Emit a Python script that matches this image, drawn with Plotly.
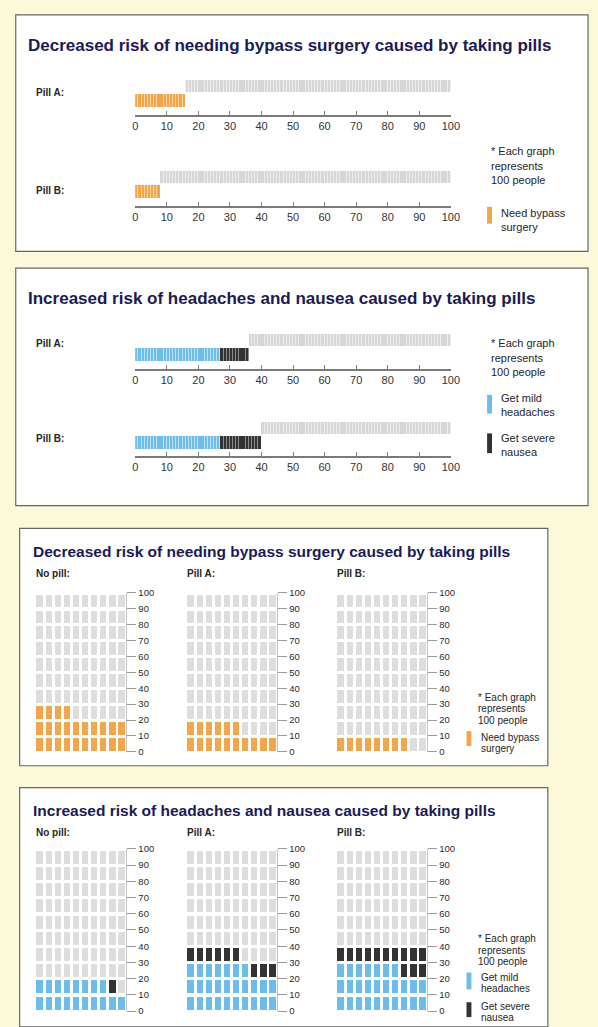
import numpy as np
import plotly.graph_objects as go

W, H = 598, 1027

# ---------------- data ----------------
groups = ["No pill", "Pill A", "Pill B"]
need_bypass = [24, 16, 8]          # people out of 100 needing bypass surgery
mild_headaches = [18, 27, 27]      # people out of 100 getting mild headaches
severe_nausea = [1, 9, 13]         # people out of 100 getting severe nausea
people_per_graph = 100
tick_values = [0, 10, 20, 30, 40, 50, 60, 70, 80, 90, 100]

title_bypass = "Decreased risk of needing bypass surgery caused by taking pills"
title_headache = "Increased risk of headaches and nausea caused by taking pills"
note_lines = ["* Each graph", "represents", "100 people"]
legend_bypass = ["Need bypass", "surgery"]
legend_mild = ["Get mild", "headaches"]
legend_severe = ["Get severe", "nausea"]

# ---------------- style ----------------
ORANGE = "#f2a54a"
BLUE = "#6cbde9"
BLACK = "#333333"
GRAY = "#d6d6d6"
PALE = {ORANGE: "#f8d4a6", BLUE: "#bde2f5", BLACK: "#8c8c8c", GRAY: "#ededed"}
CELL_GRAY = "#dddddd"
NAVY = "#1b1b55"
TXT = "#262626"
FONT = "Liberation Sans, Arial, sans-serif"
BG = "#fcf9da"


def px(x):
    return x / W


def py(y):
    return 1 - y / H


fig = go.Figure()
layout_axes = {}
annotations = []
shapes = []
ax_count = [0]


def new_axes(x0, x1, ybot, ytop, xkw, ykw):
    ax_count[0] += 1
    n = ax_count[0]
    sfx = "" if n == 1 else str(n)
    xname, yname = "x" + sfx, "y" + sfx
    xa = dict(domain=[px(x0), px(x1)], anchor=yname, showgrid=False, zeroline=False)
    ya = dict(domain=[py(ybot), py(ytop)], anchor=xname, showgrid=False, zeroline=False)
    xa.update(xkw)
    ya.update(ykw)
    layout_axes["xaxis" + sfx] = xa
    layout_axes["yaxis" + sfx] = ya
    return xname, yname


def text(x, y, s, size=9, color=TXT, bold=False, anchor="left"):
    annotations.append(dict(
        x=px(x), y=py(y), xref="paper", yref="paper", text=("<b>%s</b>" % s) if bold else s,
        showarrow=False, xanchor=anchor, yanchor="middle", align="left", borderpad=0,
        font=dict(family=FONT, size=size, color=color)))


def lines(x, y, items, size, step):
    for j, s in enumerate(items):
        text(x, y + j * step, s, size=size)


def box(x0, y0, x1, y1, fill="#ffffff", line="#666666"):
    shapes.append(dict(type="rect", xref="paper", yref="paper", x0=px(x0), x1=px(x1),
                       y0=py(y1), y1=py(y0), fillcolor=fill, line=dict(color=line, width=1.2),
                       layer="below"))


def swatch(x, y0, y1, color):
    shapes.append(dict(type="rect", xref="paper", yref="paper", x0=px(x), x1=px(x + 5),
                       y0=py(y1), y1=py(y0), fillcolor=color, line=dict(width=0),
                       layer="above"))


def add_stripes(xa, ya, start, count, color, base, height):
    if count <= 0:
        return
    # pale underlay for the whole run, then one stripe per person
    fig.add_trace(go.Bar(x=[start + count / 2], y=[height], base=[base], width=[count],
                         marker=dict(color=PALE[color], line=dict(width=0)),
                         xaxis=xa, yaxis=ya, hoverinfo="skip", showlegend=False))
    xs = np.arange(start, start + count) + 0.5
    fig.add_trace(go.Bar(x=xs, y=[height] * count, base=[base] * count, width=0.55,
                         marker=dict(color=color, line=dict(width=0)),
                         xaxis=xa, yaxis=ya, hoverinfo="skip", showlegend=False))


# ---------------- horizontal strip charts ----------------
def strip_chart(segments, x0, x1, ybot, ytop):
    xa, ya = new_axes(
        x0, x1, ybot, ytop,
        dict(range=[0, people_per_graph], tickvals=tick_values, ticks="inside", ticklen=4,
             tickcolor="#808080", showline=True, linecolor="#7a7a7a", linewidth=1.5,
             tickfont=dict(family=FONT, size=11, color="#333333"), fixedrange=True),
        dict(range=[0, 3.3], visible=False, fixedrange=True))
    start = 0
    for count, color in segments:
        add_stripes(xa, ya, start, count, color, 0.7, 1.15)
        start += count
    add_stripes(xa, ya, start, people_per_graph - start, GRAY, 1.95, 1.1)


# ---------------- grid charts ----------------
def grid_chart(segments, x0, x1, ybot, ytop):
    xa, ya = new_axes(
        x0, x1, ybot, ytop,
        dict(range=[0, 10], visible=False, fixedrange=True),
        dict(range=[0, people_per_graph], tickvals=tick_values, side="right", ticks="outside",
             ticklen=9, tickcolor="#9a9a9a", showline=True, linecolor="#c4c4c4", linewidth=1,
             tickfont=dict(family=FONT, size=9.5, color="#2a2a2a"), fixedrange=True))
    k = np.arange(people_per_graph)
    colors = np.array([CELL_GRAY] * people_per_graph, dtype=object)
    start = 0
    for count, color in segments:
        colors[start:start + count] = color
        start += count
    for color in [CELL_GRAY] + [c for _, c in segments]:
        sel = k[colors == color]
        if len(sel) == 0:
            continue
        fig.add_trace(go.Bar(x=(sel % 10) + 0.5, y=[8] * len(sel), base=(sel // 10) * 10 + 1,
                             width=0.68, marker=dict(color=color, line=dict(width=0)),
                             xaxis=xa, yaxis=ya, hoverinfo="skip", showlegend=False))


# ---------- Panel 1 ----------
box(13, 9, 597, 248)
text(24, 40, title_bypass, size=17, color=NAVY, bold=True)
text(33, 87, groups[1] + ":", size=10, bold=True)
strip_chart([(need_bypass[1], ORANGE)], 135, 457, 110, 72)
text(33, 187, groups[2] + ":", size=10, bold=True)
strip_chart([(need_bypass[2], ORANGE)], 135, 457, 202, 164)
lines(497, 147, note_lines, 11, 14.5)
swatch(494, 203, 220, ORANGE)
lines(507, 209, legend_bypass, 11, 14)

# ---------- Panel 2 ----------
box(13, 265, 597, 505)
text(24, 296, title_headache, size=17, color=NAVY, bold=True)
text(33, 341, groups[1] + ":", size=10, bold=True)
strip_chart([(mild_headaches[1], BLUE), (severe_nausea[1], BLACK)], 135, 457, 367, 329)
text(33, 437, groups[2] + ":", size=10, bold=True)
strip_chart([(mild_headaches[2], BLUE), (severe_nausea[2], BLACK)], 135, 457, 455, 417)
lines(497, 341, note_lines, 11, 14.5)
swatch(494, 393, 412, BLUE)
lines(507, 396, legend_mild, 11, 14)
swatch(494, 432, 452, BLACK)
lines(507, 437, legend_severe, 11, 14)

# ---------- Panel 3 ----------
grid_x = [(33, 126), (187, 280), (340, 433)]
box(17, 528, 556, 768)
text(30, 551, title_bypass, size=15.5, color=NAVY, bold=True)
for i, (gx0, gx1) in enumerate(grid_x):
    text(gx0, 574, groups[i] + ":", size=10, bold=True)
    grid_chart([(need_bypass[i], ORANGE)], gx0, gx1, 754, 593)
lines(484, 699, note_lines, 10, 11.5)
swatch(473, 733, 748, ORANGE)
lines(487, 739, legend_bypass, 10, 11.5)

# ---------- Panel 4 ----------
box(17, 790, 556, 1032)
text(30, 813, title_headache, size=15.5, color=NAVY, bold=True)
for i, (gx0, gx1) in enumerate(grid_x):
    text(gx0, 835, groups[i] + ":", size=10, bold=True)
    grid_chart([(mild_headaches[i], BLUE), (severe_nausea[i], BLACK)], gx0, gx1, 1016, 852)
lines(484, 943, note_lines, 10, 11.5)
swatch(473, 977, 994, BLUE)
lines(487, 982, legend_mild, 10, 11.5)
swatch(473, 1007, 1022, BLACK)
lines(487, 1011, legend_severe, 10, 11.5)

fig.update_layout(
    width=W, height=H, margin=dict(l=0, r=0, t=0, b=0),
    paper_bgcolor=BG, plot_bgcolor="rgba(0,0,0,0)",
    barmode="overlay", bargap=0, showlegend=False,
    annotations=annotations, shapes=shapes,
    font=dict(family=FONT),
    **layout_axes)

fig.write_html("out.html", config=dict(displayModeBar=False))
